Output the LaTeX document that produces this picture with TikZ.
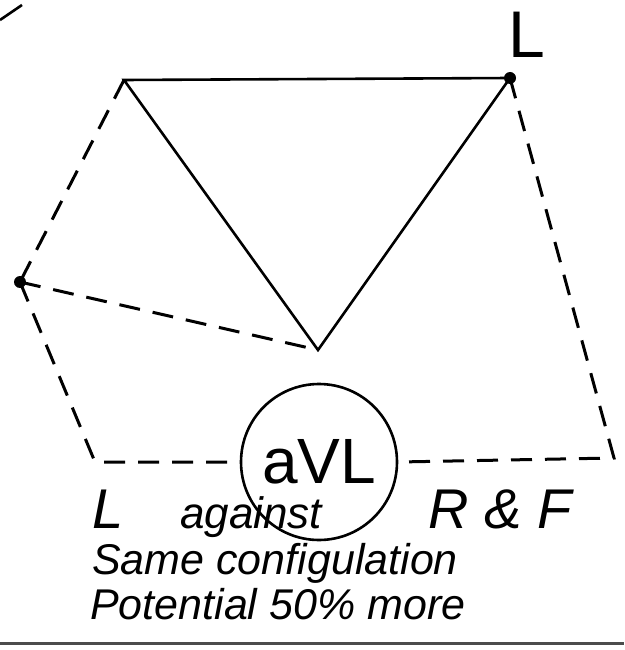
\documentclass[tikz,border=0pt]{standalone}
\usepackage{fontspec}
\setmainfont{Liberation Sans}
\usetikzlibrary{positioning}

\tikzset{
  solidline/.style={line width=2.6pt},
  dashline/.style={line width=3pt, dash pattern=on 21pt off 13pt},
  vertexdot/.style={circle, fill, inner sep=0pt, minimum size=12pt},
  handtext/.style={font=\itshape, inner sep=0pt, anchor=base west}
}

\begin{document}
\begin{tikzpicture}[x=1pt, y=-1pt]
  \useasboundingbox (0,0) rectangle (624,650);

  % fragment cut off at the top edge
  \draw[solidline] (0,20) -- (22,5);

  % vertices
  \coordinate (top-left) at (124,80);
  \node[vertexdot] (top-right) at (510,78) {};
  \coordinate (bottom) at (318,350);
  \node[vertexdot] (left) at (20,282) {};
  \coordinate (corner-left) at (95,462);
  \coordinate (corner-right) at (614,458);

  % lead label
  \node[font=\fontsize{66}{66}\selectfont, inner sep=0pt] (lead-L) at (527,35) {L};

  % triangle
  \draw[solidline] (top-left) -- (top-right.center) -- (bottom) -- cycle;

  % meter
  \node[circle, draw, line width=2.6pt, minimum size=156pt, inner sep=0pt,
        font=\fontsize{64}{64}\selectfont] (avl) at (319,462) {aVL};

  % dashed leads
  \draw[dashline] (top-left) -- (left.center);
  \draw[dashline] (left.center) -- (bottom);
  \draw[dashline] (left.center) -- (corner-left) -- (avl.west);
  \draw[dashline] (top-right.center) -- (corner-right) -- (avl.east);

  % text below
  \node[handtext, font=\itshape\fontsize{56}{56}\selectfont] (txt-L) at (92,528) {L};
  \node[handtext, font=\itshape\fontsize{44}{44}\selectfont] (txt-against) at (180,528) {against};
  \node[handtext, font=\itshape\fontsize{56}{56}\selectfont] (txt-RF) at (428,528) {R \& F};
  \node[handtext, font=\itshape\fontsize{43}{43}\selectfont] (txt-same) at (92,574) {Same configulation};
  \node[handtext, font=\itshape\fontsize{43}{43}\selectfont] (txt-pot) at (90,619) {Potential 50\% more};

  % rule at the bottom
  \draw[line width=3pt, black!70] (0,643) -- (624,643);
\end{tikzpicture}
\end{document}
